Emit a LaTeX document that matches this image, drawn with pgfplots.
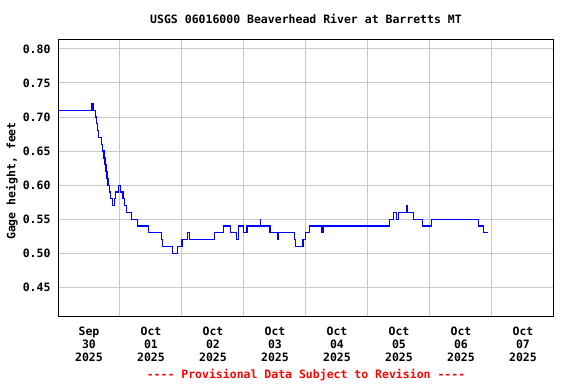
\documentclass[border=0pt]{standalone}
\usepackage{fontspec}
\setmainfont{DejaVu Sans Mono}
\usepackage{pgfplots}
\pgfplotsset{compat=1.18}
\definecolor{gridgray}{RGB}{200,200,200}
\definecolor{lineblue}{RGB}{0,0,255}
\begin{document}
\begin{tikzpicture}
\begin{axis}[
  name=ax,
  scale only axis, width=496bp, height=276bp,
  xmin=0, xmax=8, ymin=0.408, ymax=0.813,
  clip mode=individual,
  axis line style={black, line width=1bp},
  font=\fontsize{11.5bp}{13bp}\selectfont\bfseries,
  xtick={0.5,1.5,2.5,3.5,4.5,5.5,6.5,7.5},
  xticklabels={{Sep\\30\\2025},{Oct\\01\\2025},{Oct\\02\\2025},{Oct\\03\\2025},{Oct\\04\\2025},{Oct\\05\\2025},{Oct\\06\\2025},{Oct\\07\\2025}},
  xticklabel style={align=center, yshift=-7bp},
  minor xtick={1,2,3,4,5,6,7},
  xminorgrids=true,
  ytick={0.45,0.50,0.55,0.60,0.65,0.70,0.75,0.80},
  ymajorgrids=true,
  grid style={gridgray, line width=1bp},
  major tick length=0pt, minor tick length=0pt,
  yticklabel style={/pgf/number format/fixed, /pgf/number format/fixed zerofill, /pgf/number format/precision=2, xshift=-4bp},
  /pgf/number format/assume math mode=true,
  ylabel={Gage height, feet},
  every axis y label/.style={at={(axis description cs:0,0.5)}, rotate=90, anchor=center, yshift=46bp, xshift=-3bp},
  title={USGS 06016000 Beaverhead River at Barretts MT},
  every axis title/.style={at={(axis description cs:0.5,1)}, anchor=base, yshift=16bp},
]
\addplot[const plot, color=lineblue, line width=1.25bp] coordinates {
(0,0.71) (0.537,0.72) (0.565,0.71) (0.605,0.70) (0.626,0.69) (0.642,0.68)
(0.658,0.67) (0.702,0.66) (0.718,0.65) (0.742,0.64) (0.758,0.63) (0.774,0.62)
(0.790,0.61) (0.806,0.60) (0.827,0.59) (0.844,0.58) (0.882,0.57) (0.915,0.58)
(0.931,0.59) (0.973,0.60) (1.005,0.59) (1.048,0.58) (1.073,0.57) (1.105,0.56)
(1.189,0.55) (1.282,0.54) (1.456,0.53) (1.666,0.52) (1.689,0.51) (1.850,0.50)
(1.931,0.51) (2.000,0.52) (2.085,0.53) (2.124,0.52) (2.527,0.53) (2.673,0.54)
(2.785,0.53) (2.876,0.52) (2.915,0.54) (2.992,0.53) (3.048,0.54) (3.261,0.55)
(3.269,0.54) (3.419,0.53) (3.543,0.52) (3.556,0.53) (3.815,0.52) (3.834,0.51)
(3.952,0.52) (3.992,0.53) (4.060,0.54) (4.258,0.53) (4.274,0.54) (5.347,0.55)
(5.411,0.56) (5.456,0.55) (5.497,0.56) (5.621,0.57) (5.634,0.56) (5.737,0.55)
(5.882,0.54) (6.021,0.55) (6.785,0.54) (6.866,0.53) (6.931,0.53)
};
\end{axis}
\path (ax.south west) ++(248bp,-62.5bp) node[anchor=base, text=red, font=\fontsize{11.5bp}{13bp}\selectfont\bfseries] {-{}-{}-{}- Provisional Data Subject to Revision -{}-{}-{}-};
\path (ax.south west) ++(-58bp,-68bp) rectangle ++(576bp,384bp);
\end{tikzpicture}
\end{document}
